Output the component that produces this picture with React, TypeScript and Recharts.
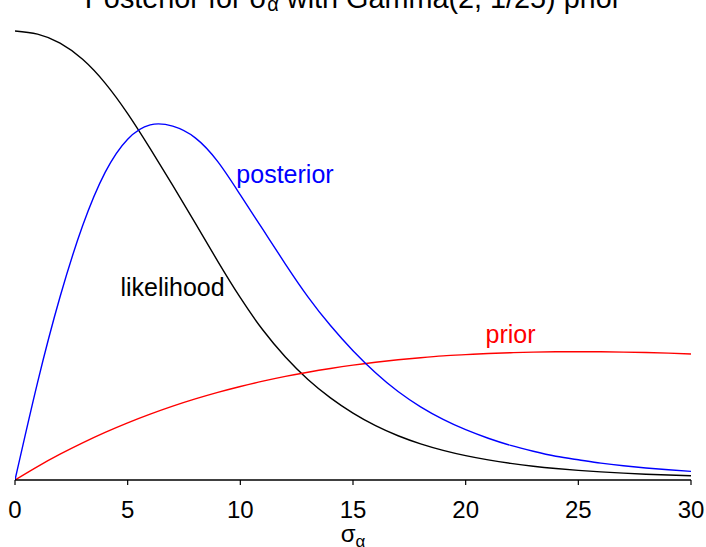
import React from "react";
import { LineChart, Line, XAxis, YAxis, Customized } from "recharts";

const sigmaValues = [0, 1, 2, 3, 4, 5, 6, 7, 8, 9, 10, 11, 12, 13, 14, 15, 16, 17, 18, 19, 20, 21, 22, 23, 24, 25, 26, 27, 28, 29, 30];
const likelihoodValues = [1.0, 0.993, 0.973, 0.937, 0.884, 0.816, 0.738, 0.656, 0.572, 0.487, 0.406, 0.334, 0.274, 0.224, 0.183, 0.149, 0.121, 0.0985, 0.0805, 0.066, 0.0542, 0.0447, 0.037, 0.0307, 0.0256, 0.0214, 0.018, 0.0152, 0.0129, 0.011, 0.0094];
const priorValues = [0, 0.0299, 0.0574, 0.0826, 0.1059, 0.1272, 0.1466, 0.1644, 0.1805, 0.1951, 0.2083, 0.2201, 0.2307, 0.2401, 0.2484, 0.2558, 0.2622, 0.2677, 0.2724, 0.2765, 0.2792, 0.2817, 0.2835, 0.2848, 0.2855, 0.2857, 0.2856, 0.2849, 0.2838, 0.2825, 0.2807];
const posteriorValues = [0, 0.217, 0.408, 0.566, 0.685, 0.759, 0.791, 0.788, 0.762, 0.709, 0.635, 0.558, 0.481, 0.408, 0.344, 0.288, 0.239, 0.197, 0.163, 0.135, 0.112, 0.093, 0.077, 0.064, 0.053, 0.045, 0.0375, 0.0316, 0.0268, 0.0227, 0.0193];
const xTicks = [0, 5, 10, 15, 20, 25, 30];

const data = sigmaValues.map((s, i) => ({
  sigma: s,
  likelihood: likelihoodValues[i],
  prior: priorValues[i],
  posterior: posteriorValues[i],
}));

const FONT = "'Liberation Sans', Arial, Helvetica, sans-serif";

const Texts = () => (
  <g fontFamily={FONT}>
    <text x={353} y={7.5} textAnchor="middle" fontSize={28.8} fill="#000">
      Posterior for σ<tspan dy={3.5} fontSize={20}>α</tspan>
      <tspan dy={-3.5}> with Gamma(2, 1/25) prior</tspan>
    </text>
    <text x={172.5} y={296} textAnchor="middle" fontSize={25} fill="#000">likelihood</text>
    <text x={285} y={183} textAnchor="middle" fontSize={25} fill="#0000FF">posterior</text>
    <text x={510.5} y={343} textAnchor="middle" fontSize={25} fill="#FF0000">prior</text>
    <text x={353} y={542} textAnchor="middle" fontSize={24} fill="#000">
      σ<tspan dy={5} fontSize={17}>α</tspan>
    </text>
  </g>
);

export default function App() {
  return (
    <div style={{ position: "absolute", left: 0, top: 0, width: 706, height: 547, background: "#fff" }}>
      <LineChart width={706} height={547} data={data} margin={{ top: 8, right: 15, bottom: 0, left: 15 }}>
        <XAxis
          dataKey="sigma"
          type="number"
          domain={[0, 30]}
          ticks={xTicks}
          height={67}
          tickSize={5}
          tickMargin={16}
          axisLine={{ stroke: "#000", strokeWidth: 1.4 }}
          tickLine={{ stroke: "#000", strokeWidth: 1.2 }}
          tick={{ fill: "#000", fontSize: 24, fontFamily: FONT }}
          interval={0}
          allowDataOverflow
        />
        <YAxis
          type="number"
          domain={[0, 1.0512]}
          width={0}
          tick={false}
          tickLine={false}
          axisLine={{ stroke: "#000", strokeWidth: 1.5 }}
          allowDataOverflow
        />
        <Line type="natural" dataKey="likelihood" stroke="#000" strokeWidth={1.4} dot={false} isAnimationActive={false} />
        <Line type="natural" dataKey="prior" stroke="#FF0000" strokeWidth={1.4} dot={false} isAnimationActive={false} />
        <Line type="natural" dataKey="posterior" stroke="#0000FF" strokeWidth={1.4} dot={false} isAnimationActive={false} />
        <Customized component={Texts} />
      </LineChart>
    </div>
  );
}
